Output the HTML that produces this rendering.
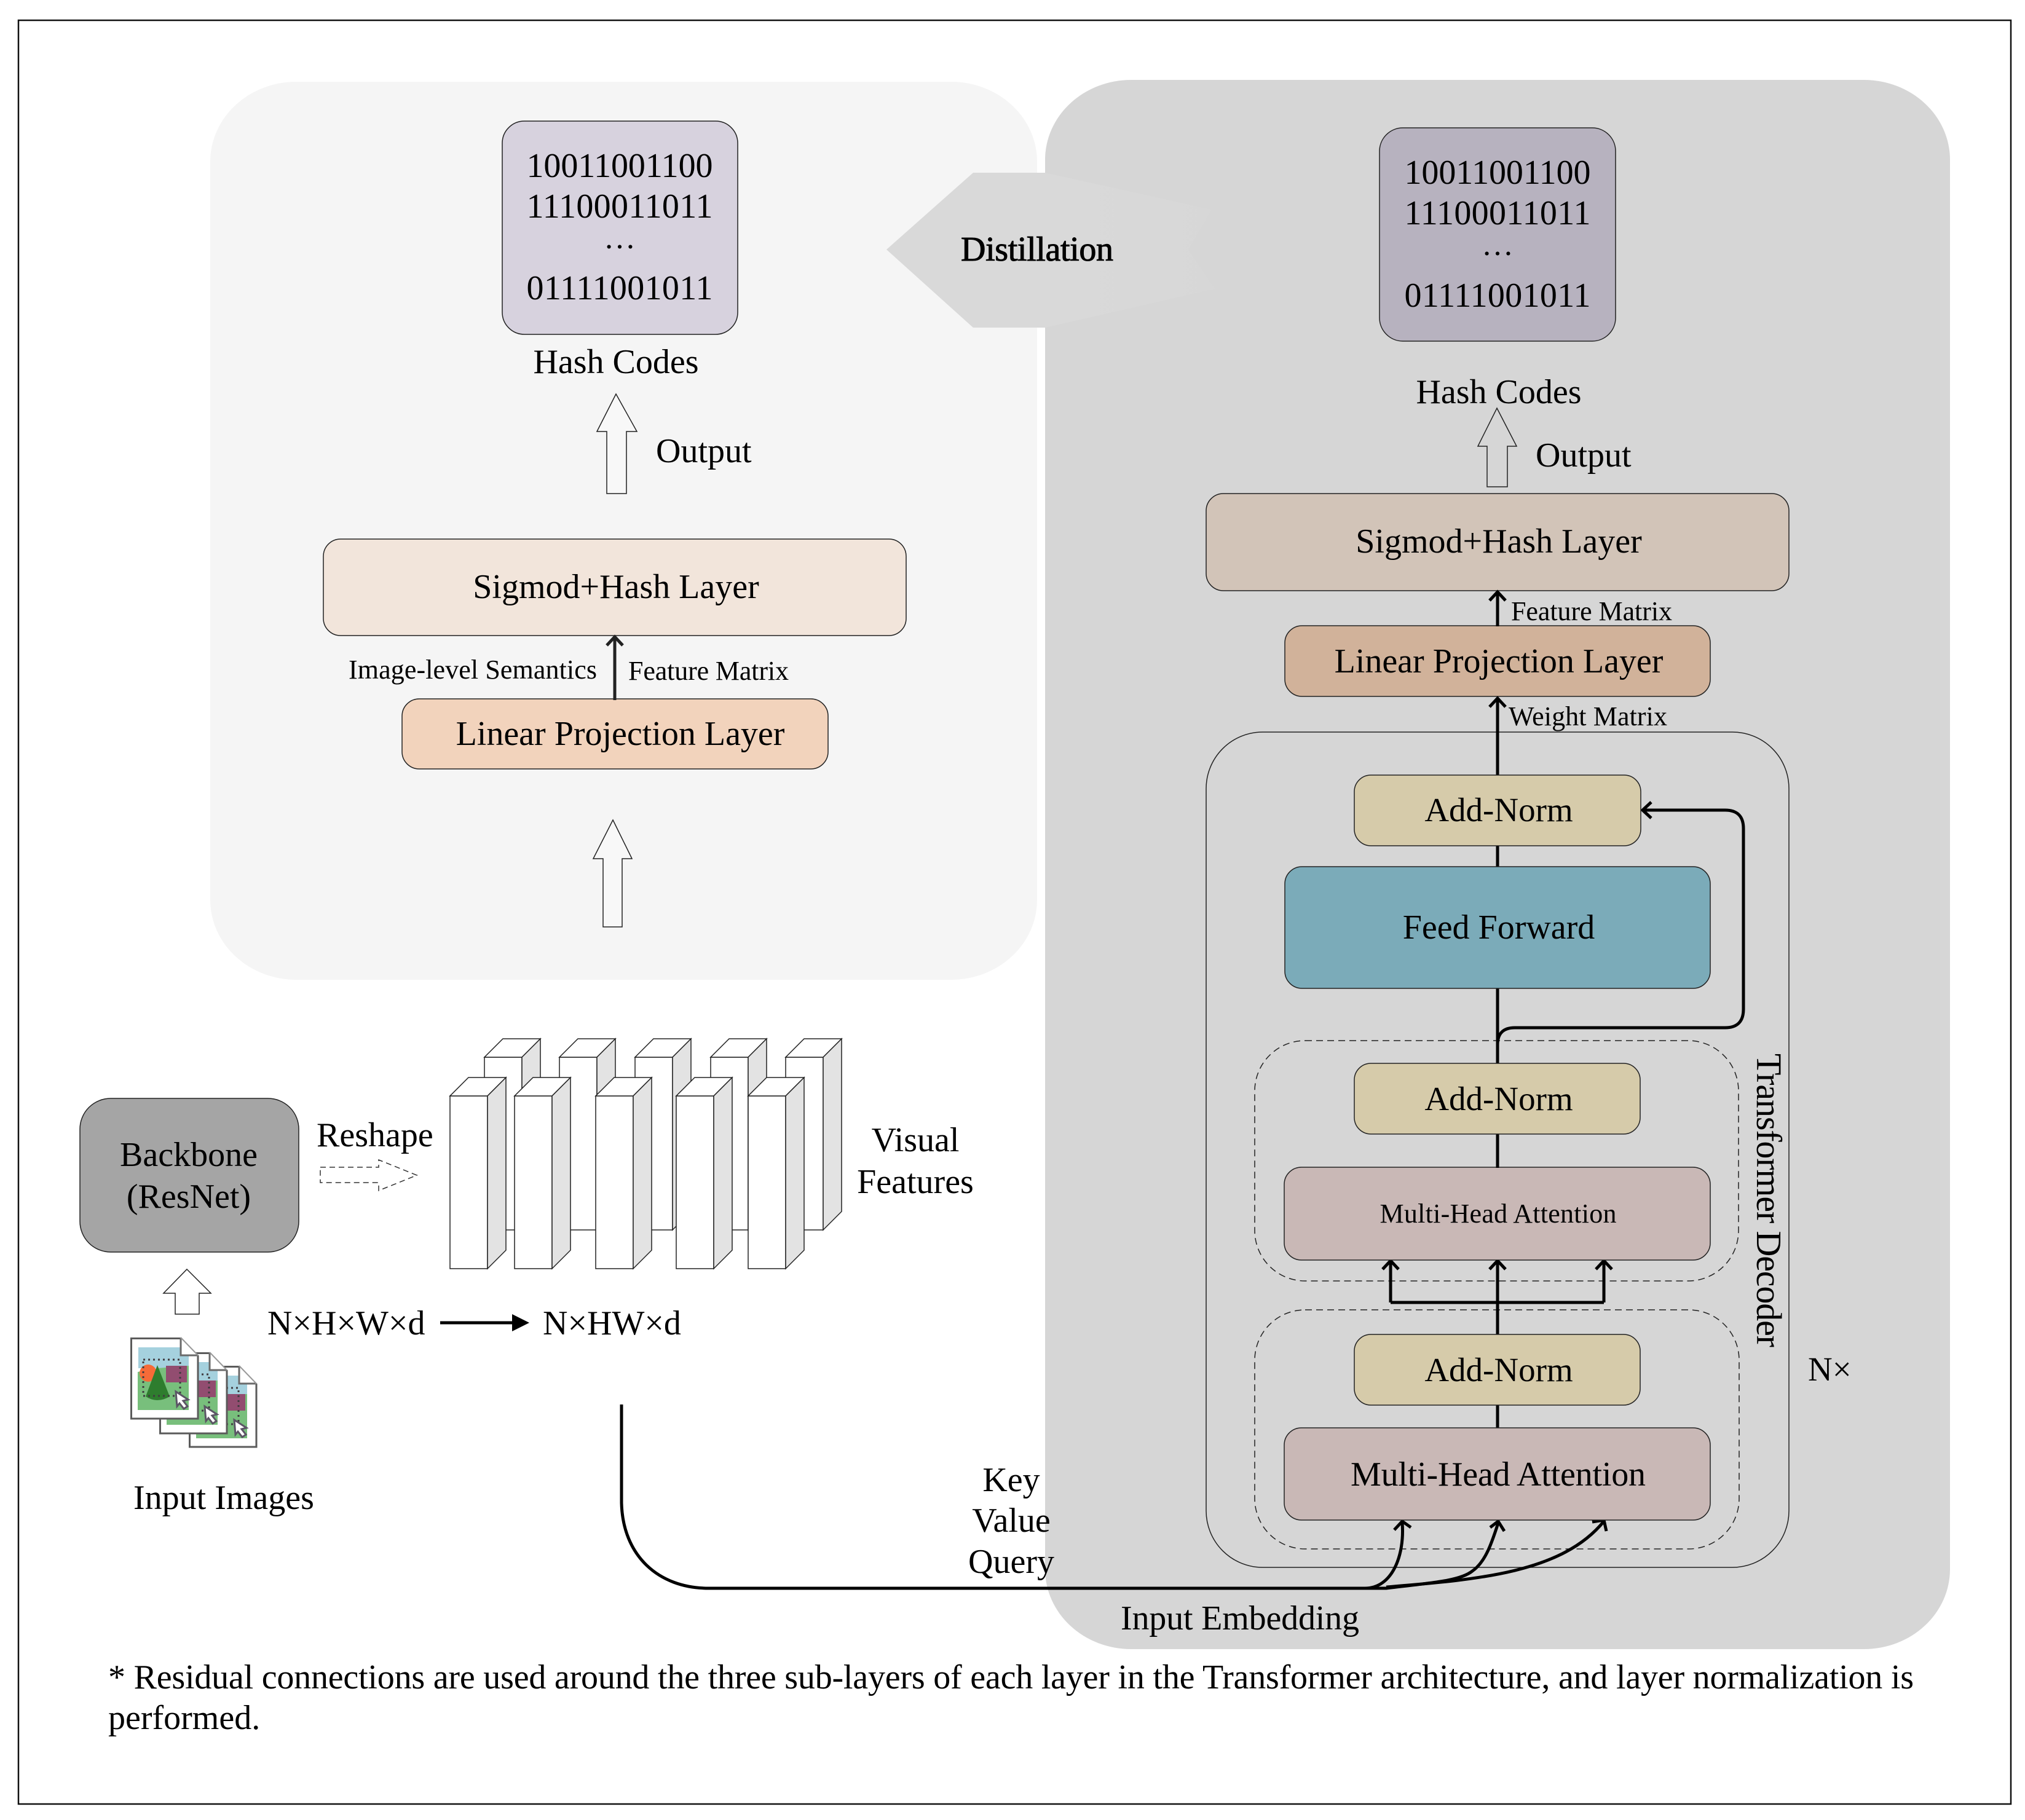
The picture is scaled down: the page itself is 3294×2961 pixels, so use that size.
<!DOCTYPE html>
<html><head><meta charset="utf-8"><style>
html,body{margin:0;padding:0;background:#fff}
svg{display:block}
text{font-family:"Liberation Serif",serif;font-size:56px;fill:#000}
.c{text-anchor:middle}
</style></head><body>
<svg xmlns="http://www.w3.org/2000/svg" width="3294" height="2961" viewBox="0 0 3294 2961">
<defs>
<linearGradient id="pg" gradientUnits="userSpaceOnUse" x1="1442" y1="0" x2="1976" y2="0">
<stop offset="0" stop-color="#d9d9d9"/><stop offset="0.6" stop-color="#d9d9d9"/><stop offset="1" stop-color="#d7d7d7"/>
</linearGradient>
<g id="doc">
<path d="M1.5 1.5H82L110 30V132H1.5Z" fill="#fff" stroke="#5b5b5b" stroke-width="3"/>
<rect x="13" y="16" width="82" height="34" fill="#a5d1de"/>
<path d="M12 90V56L44 50 95 46V118H12Z" fill="#78bf7c"/>
<rect x="58" y="46" width="34" height="27" fill="#924d70"/>
<circle cx="29" cy="58" r="14" fill="#f66b38"/>
<path d="M44 45L64 96Q44 108 25 96Z" fill="#2e7d2e"/>
<rect x="21" y="36" width="60" height="59" fill="none" stroke="#403c40" stroke-width="3" stroke-dasharray="3 5"/>
<path d="M74 88L94 101 86 103 93 112 87 116 80 107 76 112Z" fill="#fff" stroke="#5b5565" stroke-width="3"/>
<path d="M82 0V29H110" fill="#fff" stroke="#6a6a6a" stroke-width="3"/>
<path d="M82 0L110 29" stroke="#9a9a9a" stroke-width="2" fill="none"/>
</g>
<g id="cub">
<rect x="0" y="0" width="61" height="281" fill="#fff" stroke="#222" stroke-width="1.5"/>
<path d="M0 0L30 -30H91L61 0Z" fill="#fff" stroke="#222" stroke-width="1.5"/>
<path d="M61 0L91 -30V251L61 281Z" fill="#e3e3e3" stroke="#222" stroke-width="1.5"/>
</g>
</defs>
<rect width="3294" height="2961" fill="#fff"/>
<rect x="30" y="33" width="3241" height="2902" fill="#fff" stroke="#111" stroke-width="2.5"/>

<!-- panels -->
<rect x="342" y="133" width="1345" height="1461" rx="140" ry="130" fill="#f5f5f5"/>
<rect x="1700" y="130" width="1472" height="2553" rx="140" ry="130" fill="#d6d6d6"/>
<path d="M1442 406L1583 281H1700L1971 341 1933 406 1976 470 1700 533H1583Z" fill="url(#pg)"/>
<text x="1687" y="424" class="c" stroke="#000" stroke-width="1" textLength="248">Distillation</text>

<!-- left panel -->
<rect x="817" y="197" width="383" height="347" rx="36" fill="#d7d2de" stroke="#222" stroke-width="1.5"/>
<text x="1008" y="288" class="c" textLength="303">10011001100</text>
<text x="1008" y="354" class="c" textLength="303">11100011011</text>
<text x="1008" y="404" class="c" style="font-size:52px">…</text>
<text x="1008" y="487" class="c" textLength="303">01111001011</text>
<text x="1002" y="607" class="c">Hash Codes</text>
<path d="M1002 641L1036 702H1019V803H987V702H971Z" fill="#f8f8f8" stroke="#222" stroke-width="1.5"/>
<text x="1067" y="752">Output</text>
<rect x="526" y="877" width="948" height="157" rx="28" fill="#f2e5db" stroke="#222" stroke-width="1.5"/>
<text x="1002" y="973" class="c" fill="#222">Sigmod+Hash Layer</text>
<rect x="654" y="1137" width="693" height="114" rx="28" fill="#f2d3bc" stroke="#222" stroke-width="1.5"/>
<text x="1009" y="1212" class="c">Linear Projection Layer</text>
<path d="M1000 1139V1036M987 1050L1000 1036 1013 1050" fill="none" stroke="#222" stroke-width="5"/>
<text x="567" y="1104" style="font-size:44px" textLength="404">Image-level Semantics</text>
<text x="1022" y="1106" style="font-size:44px" textLength="261">Feature Matrix</text>
<path d="M997 1334L1028 1397H1012V1508H981V1397H965Z" fill="#f8f8f8" stroke="#222" stroke-width="1.5"/>

<!-- right panel -->
<rect x="2244" y="208" width="384" height="347" rx="38" fill="#b7b2bf" stroke="#222" stroke-width="1.5"/>
<text x="2436" y="299" class="c" textLength="303">10011001100</text>
<text x="2436" y="365" class="c" textLength="303">11100011011</text>
<text x="2436" y="415" class="c" style="font-size:52px">…</text>
<text x="2436" y="499" class="c" textLength="303">01111001011</text>
<text x="2438" y="656" class="c">Hash Codes</text>
<path d="M2435 664L2467 726H2452V792H2419V726H2404Z" fill="#d6d6d6" stroke="#222" stroke-width="1.5"/>
<text x="2498" y="759">Output</text>
<rect x="1962" y="803" width="948" height="158" rx="28" fill="#d2c4b8" stroke="#222" stroke-width="1.5"/>
<text x="2438" y="899" class="c">Sigmod+Hash Layer</text>
<rect x="2090" y="1018" width="692" height="115" rx="28" fill="#d1b29a" stroke="#222" stroke-width="1.5"/>
<text x="2438" y="1094" class="c">Linear Projection Layer</text>
<text x="2458" y="1009" style="font-size:44px" textLength="262">Feature Matrix</text>
<text x="2454" y="1180" style="font-size:44px" textLength="258">Weight Matrix</text>

<rect x="1962" y="1191" width="948" height="1359" rx="92" fill="none" stroke="#222" stroke-width="1.5"/>
<rect x="2041" y="1693" width="787" height="391" rx="82" fill="none" stroke="#222" stroke-width="1.5" stroke-dasharray="11 7"/>
<rect x="2041" y="2131" width="788" height="389" rx="82" fill="none" stroke="#222" stroke-width="1.5" stroke-dasharray="11 7"/>

<!-- connectors -->
<g fill="none" stroke="#000" stroke-width="5">
<path d="M2436 1019V964M2423 977L2436 963 2449 977"/>
<path d="M2436 1262V1136M2423 1150L2436 1136 2449 1150"/>
<path d="M2436 1376V1411"/>
<path d="M2436 1608V1731"/>
<path d="M2436 1845V1900"/>
<path d="M2436 2050V2172"/>
<path d="M2436 2286V2324"/>
<path d="M2436 1700Q2436 1672 2464 1672H2806Q2836 1672 2836 1642V1348Q2836 1318 2806 1318H2672M2686 1305L2672 1318 2686 1331"/>
<path d="M2262 2119V2051M2609 2119V2051M2262 2119H2609M2249 2065L2262 2051 2275 2065M2423 2065L2436 2051 2449 2065M2596 2065L2609 2051 2622 2065"/>
<path d="M1011 2285V2445C1013 2530 1070 2584 1153 2584H2220C2265 2584 2285 2530 2281 2478"/>
<path d="M2268 2489L2281 2475 2295 2485"/>
<path d="M2215 2584H2255C2330 2575 2375 2572 2395 2556C2418 2540 2428 2505 2437 2478"/>
<path d="M2424 2485L2437 2475 2447 2491"/>
<path d="M2255 2582C2400 2570 2540 2560 2609 2475"/>
<path d="M2590 2476L2609 2473 2613 2491"/>
</g>

<!-- blocks -->
<rect x="2203" y="1261" width="466" height="115" rx="27" fill="#d6cbaa" stroke="#222" stroke-width="1.5"/>
<text x="2438" y="1336" class="c" style="font-size:55px">Add-Norm</text>
<rect x="2090" y="1410" width="692" height="198" rx="28" fill="#7babb9" stroke="#222" stroke-width="1.5"/>
<text x="2438" y="1527" class="c">Feed Forward</text>
<rect x="2203" y="1730" width="465" height="115" rx="27" fill="#d6cbaa" stroke="#222" stroke-width="1.5"/>
<text x="2438" y="1806" class="c" style="font-size:55px">Add-Norm</text>
<rect x="2089" y="1899" width="693" height="151" rx="28" fill="#c9b8b6" stroke="#222" stroke-width="1.5"/>
<text x="2437" y="1989" class="c" style="font-size:44px" textLength="385">Multi-Head Attention</text>
<rect x="2203" y="2171" width="465" height="115" rx="27" fill="#d6cbaa" stroke="#222" stroke-width="1.5"/>
<text x="2438" y="2247" class="c" style="font-size:55px">Add-Norm</text>
<rect x="2089" y="2323" width="693" height="150" rx="28" fill="#c9b8b6" stroke="#222" stroke-width="1.5"/>
<text x="2437" y="2417" class="c" textLength="480">Multi-Head Attention</text>
<path d="M2436 1900V1892M2436 2050V2052" stroke="#000" stroke-width="5" fill="none"/>

<text transform="translate(2858 1714) rotate(90)" style="font-size:58px" textLength="478">Transformer Decoder</text>
<text x="2941" y="2246" style="font-size:55px">N×</text>

<!-- cuboids -->
<use href="#cub" x="788" y="1720"/>
<use href="#cub" x="910" y="1720"/>
<use href="#cub" x="1033" y="1720"/>
<use href="#cub" x="1156" y="1720"/>
<use href="#cub" x="1278" y="1720"/>
<use href="#cub" x="732" y="1783"/>
<use href="#cub" x="837" y="1783"/>
<use href="#cub" x="969" y="1783"/>
<use href="#cub" x="1100" y="1783"/>
<use href="#cub" x="1217" y="1783"/>

<text x="1489" y="1873" class="c">Visual</text>
<text x="1489" y="1941" class="c">Features</text>

<!-- backbone -->
<rect x="130" y="1787" width="356" height="250" rx="50" fill="#a5a5a5" stroke="#222" stroke-width="1.5"/>
<text x="307" y="1897" class="c">Backbone</text>
<text x="307" y="1965" class="c">(ResNet)</text>
<text x="515" y="1865">Reshape</text>
<path d="M521 1899H616V1887L678 1912 616 1937V1924H521Z" fill="#fff" stroke="#333" stroke-width="1.5" stroke-dasharray="9 6"/>
<path d="M304 2065L343 2104H324V2138H285V2104H266Z" fill="#fff" stroke="#222" stroke-width="1.5"/>

<use href="#doc" x="307" y="2222"/>
<use href="#doc" x="259" y="2200"/>
<use href="#doc" x="212" y="2176"/>

<text x="435" y="2171">N×H×W×d</text>
<path d="M716 2152H836" stroke="#000" stroke-width="5"/>
<path d="M833 2138L861 2152 833 2166Z" fill="#000"/>
<text x="883" y="2171">N×HW×d</text>
<text x="217" y="2455">Input Images</text>

<text x="1645" y="2426" class="c">Key</text>
<text x="1645" y="2492" class="c">Value</text>
<text x="1645" y="2559" class="c">Query</text>
<text x="1823" y="2651" textLength="388">Input Embedding</text>

<text x="176" y="2747" textLength="2937">* Residual connections are used around the three sub-layers of each layer in the Transformer architecture, and layer normalization is</text>
<text x="176" y="2813">performed.</text>
</svg>
</body></html>
